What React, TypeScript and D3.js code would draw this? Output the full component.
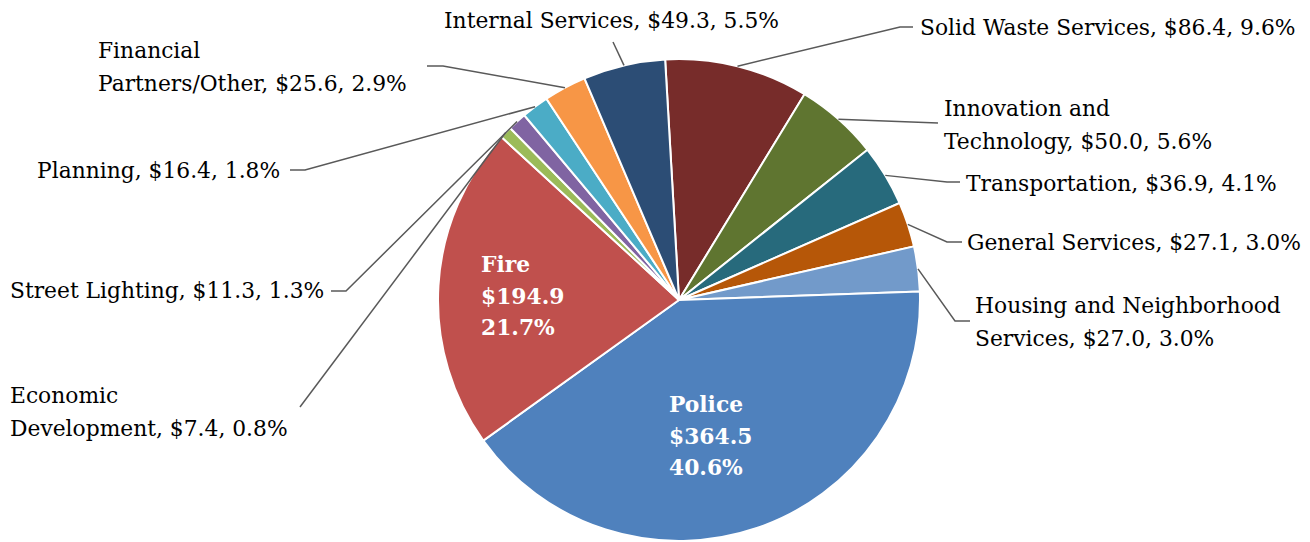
import React from "react";
import * as d3 from "d3";

const categories = [
  "Solid Waste Services",
  "Innovation and Technology",
  "Transportation",
  "General Services",
  "Housing and Neighborhood Services",
  "Police",
  "Fire",
  "Economic Development",
  "Street Lighting",
  "Planning",
  "Financial Partners/Other",
  "Internal Services",
];
const amounts = [86.4, 50.0, 36.9, 27.1, 27.0, 364.5, 194.9, 7.4, 11.3, 16.4, 25.6, 49.3];
const colors = [
  "#772C2A", "#5F7530", "#276A7C", "#B65708", "#729ACA", "#4F81BD",
  "#C0504D", "#9BBB59", "#8064A2", "#4BACC6", "#F79646", "#2C4D75",
];

// label layout (outside labels): line breaks, text position, leader path
type Lay = {
  inside?: boolean;
  split?: number; // words in the first line
  x: number;
  y: number;
  elbow?: [number, number][];
};
const layout: Lay[] = [
  { x: 920, y: 35, elbow: [[900, 27], [913, 27]] },
  { split: 2, x: 944, y: 116, elbow: [[938, 123]] },
  { x: 966, y: 191, elbow: [[947, 182], [960, 182]] },
  { x: 967, y: 250, elbow: [[947, 242], [962, 242]] },
  { split: 3, x: 975, y: 313, elbow: [[955, 321], [970, 321]] },
  { inside: true, x: 669, y: 412 },
  { inside: true, x: 481, y: 272 },
  { split: 1, x: 10, y: 403, elbow: [[300, 407]] },
  { x: 10, y: 298, elbow: [[346, 291], [331, 291]] },
  { x: 37, y: 178, elbow: [[305, 170], [290, 170]] },
  { split: 1, x: 98, y: 58, elbow: [[443, 66], [427, 66]] },
  { x: 444, y: 28, elbow: [[613, 42]] },
];

const W = 1310;
const H = 542;
const cx = 679;
const cy = 300;
const R = 241;
const startDeg = -3.3;
const lineH = 33;
const fs = 21.8;

export default function App() {
  const total = d3.sum(amounts);
  const pie = d3
    .pie<number>()
    .sort(null)
    .value((d) => d)
    .startAngle((startDeg * Math.PI) / 180)
    .endAngle((startDeg * Math.PI) / 180 + 2 * Math.PI);
  const arcs = pie(amounts);
  const arc = d3.arc<d3.PieArcDatum<number>>().innerRadius(0).outerRadius(R);
  const fmtPct = (v: number) => d3.format(".1f")((v / total) * 100) + "%";
  const fmtAmt = (v: number) => "$" + d3.format(".1f")(v);

  return (
    <svg
      width={W}
      height={H}
      style={{ position: "absolute", left: 0, top: 0, background: "#fff" }}
      fontFamily="'DejaVu Serif', 'Liberation Serif', serif"
    >
      <g transform={`translate(${cx},${cy})`}>
        {arcs.map((a, i) => (
          <path key={i} d={arc(a) || ""} fill={colors[i]} stroke="#fff" strokeWidth={2} />
        ))}
      </g>
      {arcs.map((a, i) => {
        const L = layout[i];
        const name = categories[i];
        const v = amounts[i];
        if (L.inside) {
          const lines = [name, fmtAmt(v), fmtPct(v)];
          return (
            <text key={"t" + i} fill="#fff" fontWeight="bold" fontSize={fs}>
              {lines.map((l, j) => (
                <tspan key={j} x={L.x} y={L.y + j * 31.5}>
                  {l}
                </tspan>
              ))}
            </text>
          );
        }
        const full = `${name}, ${fmtAmt(v)}, ${fmtPct(v)}`;
        let lines = [full];
        if (L.split) {
          const words = full.split(" ");
          lines = [words.slice(0, L.split).join(" "), words.slice(L.split).join(" ")];
        }
        const mid = (a.startAngle + a.endAngle) / 2;
        const sx = cx + R * Math.sin(mid);
        const sy = cy - R * Math.cos(mid);
        const pts: [number, number][] = [[sx, sy], ...(L.elbow || [])];
        return (
          <g key={"t" + i}>
            <path
              d={d3.line()(pts) || ""}
              fill="none"
              stroke="#595959"
              strokeWidth={1.5}
            />
            <text fill="#000" fontSize={fs}>
              {lines.map((l, j) => (
                <tspan key={j} x={L.x} y={L.y + j * lineH}>
                  {l}
                </tspan>
              ))}
            </text>
          </g>
        );
      })}
    </svg>
  );
}
